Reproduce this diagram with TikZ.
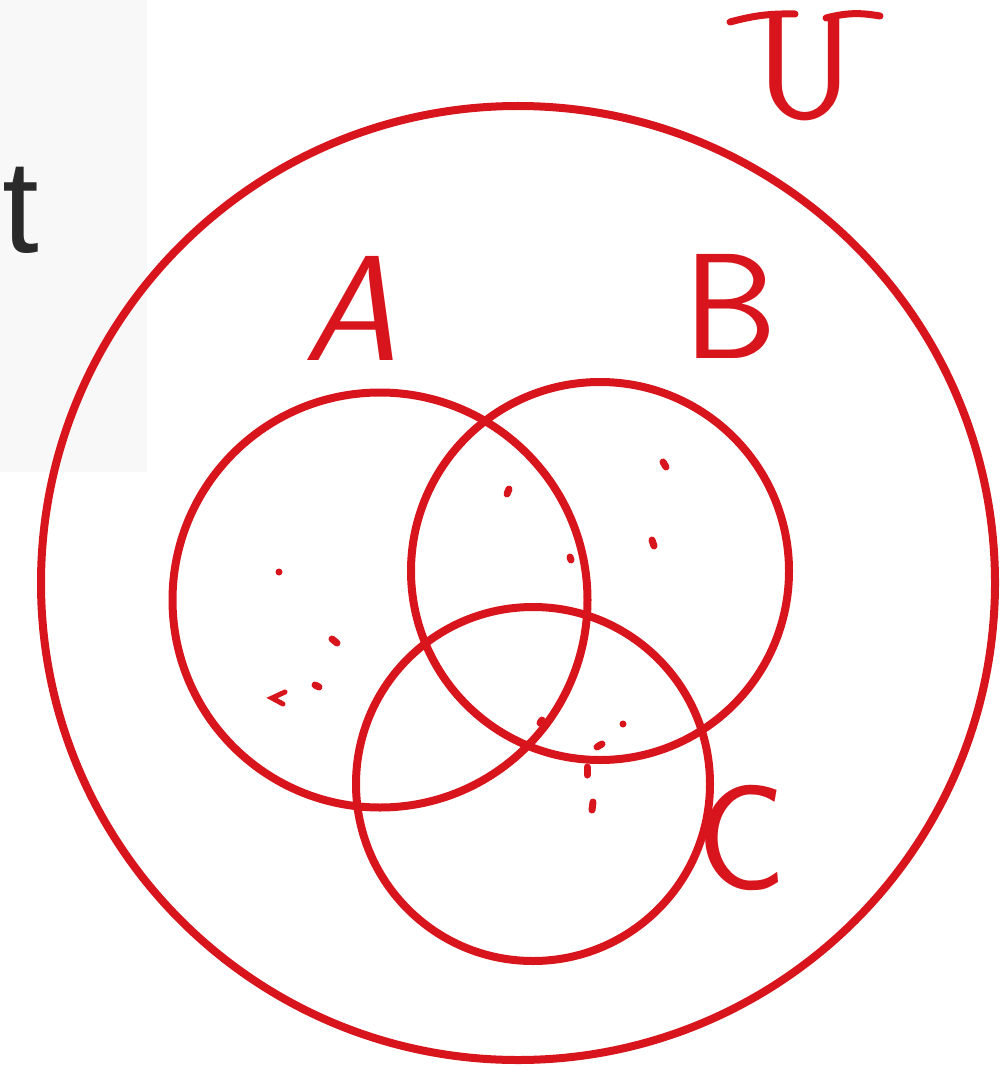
\documentclass[tikz,border=0pt]{standalone}
\usepackage{fontspec}
\newfontfamily\glyphfont{Liberation Sans}
\definecolor{pen}{HTML}{D8141C}
\definecolor{panel}{HTML}{F8F8F8}
\definecolor{ink}{HTML}{2A2A2A}
\begin{document}
\begin{tikzpicture}[x=1pt,y=-1pt,
  ring/.style={draw=pen,line width=8pt},
  hand/.style={text=pen,inner sep=0pt,font=\fontsize{150}{150}\selectfont\sffamily},
  speck/.style={pen,line width=7pt,line cap=round}]
\useasboundingbox (0,0) rectangle (1008,1067);
\fill[white] (0,0) rectangle (1008,1067);
\fill[panel] (0,0) rectangle (147,472);
\node[anchor=base west,inner sep=0pt,text=ink,font=\fontsize{132}{132}\glyphfont] (frag) at (2,252) {t};
% circles
\node[ring,circle,minimum size=954pt,inner sep=0pt] (U) at (518,583) {};
\node[ring,circle,minimum size=415pt,inner sep=0pt] (A) at (380,600) {};
\node[ring,circle,minimum size=378pt,inner sep=0pt] (B) at (600,571) {};
\node[ring,circle,minimum size=354pt,inner sep=0pt] (C) at (533,784) {};
% labels
\node[hand] (lA) at (350,308) {\itshape A};
\node[hand] (lB) at (730,306) {B};
\node[hand] (lC) at (742,838) {C};
\node[hand] (lU) at (805,68) {U};
\draw[pen,line width=7pt,line cap=round] (730,22) to[bend left=8] (795,14);
\draw[pen,line width=7pt,line cap=round] (826,18) to[bend left=12] (880,16);
% specks
\foreach \x/\y/\dx/\dy in {279/572/0/0,332/639/5/4,315/685/4/2,509/489/-2/5,663/462/3/5,
  652/540/2/6,623/724/0/0,597/747/5/-3,587/767/0/8,593/802/-1/8,540/723/2/-3,570/557/1/3}
  \draw[speck] (\x,\y) -- ++(\dx,\dy);
\draw[speck,line width=5pt] (285,692) -- (272,698) -- (283,704);
\end{tikzpicture}
\end{document}
